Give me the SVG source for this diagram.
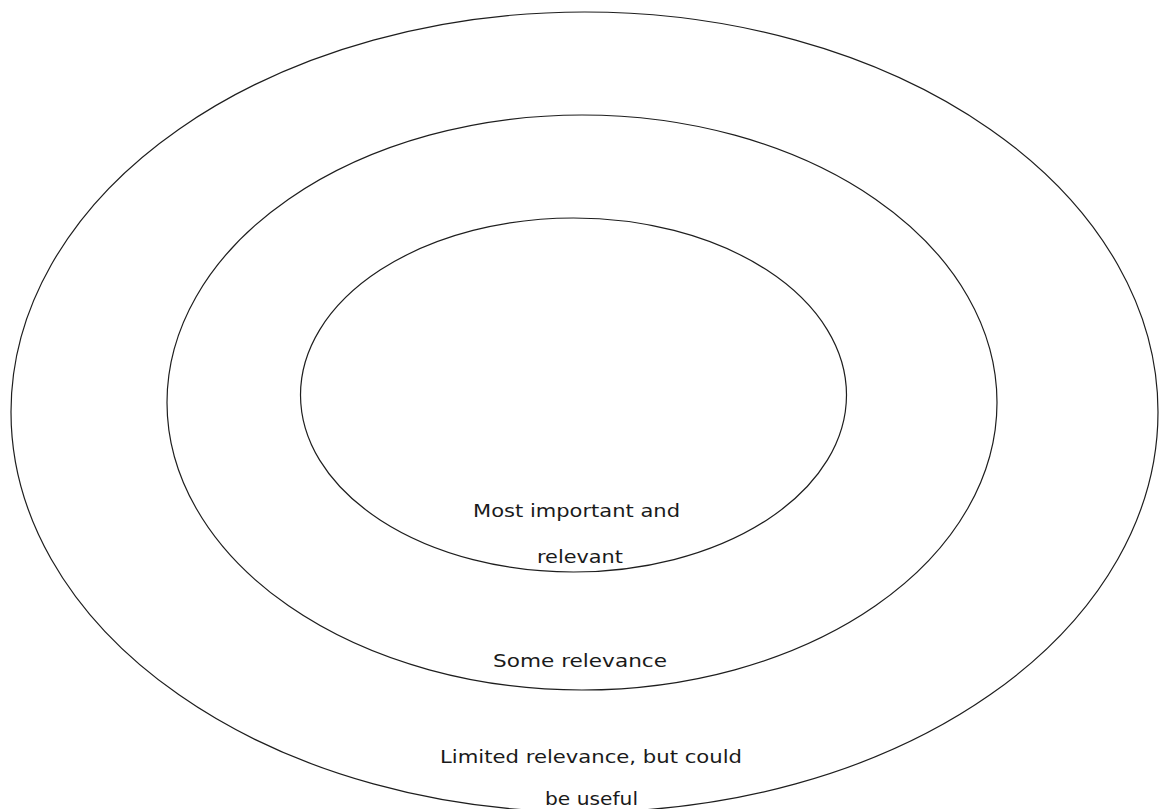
<svg xmlns="http://www.w3.org/2000/svg" width="1160" height="809" viewBox="0 0 1160 809">
<style>
.ring{fill:none;stroke:#1e1e1e;stroke-width:1.2}
.lbl{font-family:"DejaVu Sans","Liberation Sans",sans-serif;font-size:17px;fill:#1a1a1a;text-anchor:middle}
</style>
<rect width="1160" height="809" fill="#fff"/>
<g id="outer"><ellipse class="ring" cx="584.5" cy="412" rx="573.5" ry="400"/></g>
<g id="middle"><ellipse class="ring" cx="582" cy="402.5" rx="415" ry="287.5"/></g>
<g id="inner"><ellipse class="ring" cx="573.5" cy="395" rx="273" ry="177"/></g>
<g id="labels">
<text class="lbl" x="576.5" y="517" textLength="207" lengthAdjust="spacingAndGlyphs">Most important and</text>
<text class="lbl" x="580" y="563" textLength="86" lengthAdjust="spacingAndGlyphs">relevant</text>
<text class="lbl" x="580" y="667" textLength="174" lengthAdjust="spacingAndGlyphs">Some relevance</text>
<text class="lbl" x="591" y="763" textLength="302" lengthAdjust="spacingAndGlyphs">Limited relevance, but could</text>
<text class="lbl" x="591.5" y="805" textLength="93" lengthAdjust="spacingAndGlyphs">be useful</text>
</g>
</svg>
